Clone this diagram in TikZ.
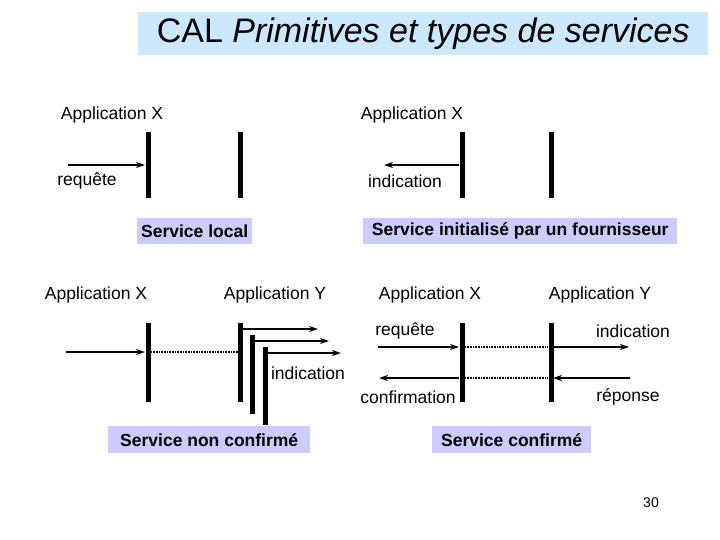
\documentclass[tikz,border=0pt]{standalone}
\usepackage{fontspec}
\setmainfont{Liberation Sans}
\usetikzlibrary{arrows.meta}
\definecolor{titlebg}{HTML}{CCE8FF}
\definecolor{boxbg}{HTML}{CCCCFF}
\begin{document}
\begin{tikzpicture}[x=1pt,y=-1pt,
  lbl/.style={font=\fontsize{17.5}{19}\selectfont,inner sep=0pt},
  sbox/.style={fill=boxbg,font=\bfseries\fontsize{17.5}{19}\selectfont,inner sep=0pt,anchor=north west},
  bar/.style={line width=5pt},
  arr/.style={line width=1.5pt,-{Stealth[length=9pt,width=6pt]}},
  dot/.style={line width=1.5pt,line cap=butt,dash pattern=on 1pt off 0.6pt}]
\useasboundingbox (0,0) rectangle (720,540);
\node[fill=titlebg,anchor=north west,minimum width=570pt,minimum height=43pt,inner sep=0pt,font=\fontsize{34}{38}\selectfont] (title) at (138,12) {CAL \itshape Primitives et types de services};
% top-left
\node[lbl] (a1) at (112,115) {Application X};
\coordinate (b1t) at (148,132); \coordinate (b1b) at (148,198);
\coordinate (b2t) at (240,132); \coordinate (b2b) at (240,198);
\draw[bar] (b1t) -- (b1b); \draw[bar] (b2t) -- (b2b);
\coordinate (r1s) at (68,165); \coordinate (r1e) at (145,165);
\draw[arr] (r1s) -- (r1e);
\node[lbl] (req1) at (87,181) {requête};
\node[sbox,minimum width=115pt,minimum height=26pt] (sl) at (137,218) {Service local};
% top-right
\node[lbl] (a2) at (412,115) {Application X};
\coordinate (b3t) at (462,132); \coordinate (b3b) at (462,198);
\coordinate (b4t) at (551,132); \coordinate (b4b) at (551,198);
\draw[bar] (b3t) -- (b3b); \draw[bar] (b4t) -- (b4b);
\coordinate (i1s) at (459,165); \coordinate (i1e) at (384,165);
\draw[arr] (i1s) -- (i1e);
\node[lbl] (ind1) at (405,181) {indication};
\node[sbox,minimum width=314pt,minimum height=26pt] (sf) at (363,218) {Service initialisé par un fournisseur};
% bottom-left
\node[lbl] (a3) at (96,295) {Application X};
\node[lbl] (a4) at (275,295) {Application Y};
\draw[bar] (148,323) -- (148,402);
\draw[bar] (240,323) -- (240,402);
\draw[bar] (252,335) -- (252,414);
\draw[bar] (265,347) -- (265,425);
\coordinate (x1) at (66,352); \coordinate (x2) at (145,352);
\draw[arr] (x1) -- (x2);
\coordinate (d1) at (151,352); \coordinate (d2) at (238,352);
\draw[dot] (d1) -- (d2);
\draw[arr] (242,329) -- (318,329);
\draw[arr] (254,341) -- (329,341);
\draw[arr] (267,353) -- (341,353);
\node[lbl] (ind2) at (308,373) {indication};
\node[sbox,minimum width=202pt,minimum height=27pt] (snc) at (108,426) {Service non confirmé};
% bottom-right
\node[lbl] (a5) at (430,295) {Application X};
\node[lbl] (a6) at (600,295) {Application Y};
\draw[bar] (462,323) -- (462,402);
\draw[bar] (551,323) -- (551,402);
\node[lbl] (req2) at (405,331) {requête};
\draw[arr] (378,347) -- (459,347);
\draw[dot] (465,347) -- (548,347);
\draw[dot] (465,378) -- (548,378);
\draw[arr] (553,347) -- (629,347);
\node[lbl] (ind3) at (633,331) {indication};
\draw[arr] (459,378) -- (379,378);
\node[lbl] (conf) at (408,397) {confirmation};
\draw[arr] (630,378) -- (553,378);
\node[lbl] (rep) at (628,397) {réponse};
\node[sbox,minimum width=159pt,minimum height=27pt] (sc) at (432,426) {Service confirmé};
\node[inner sep=0pt,font=\fontsize{14}{16}\selectfont] (pg) at (651,503) {30};
\end{tikzpicture}
\end{document}
